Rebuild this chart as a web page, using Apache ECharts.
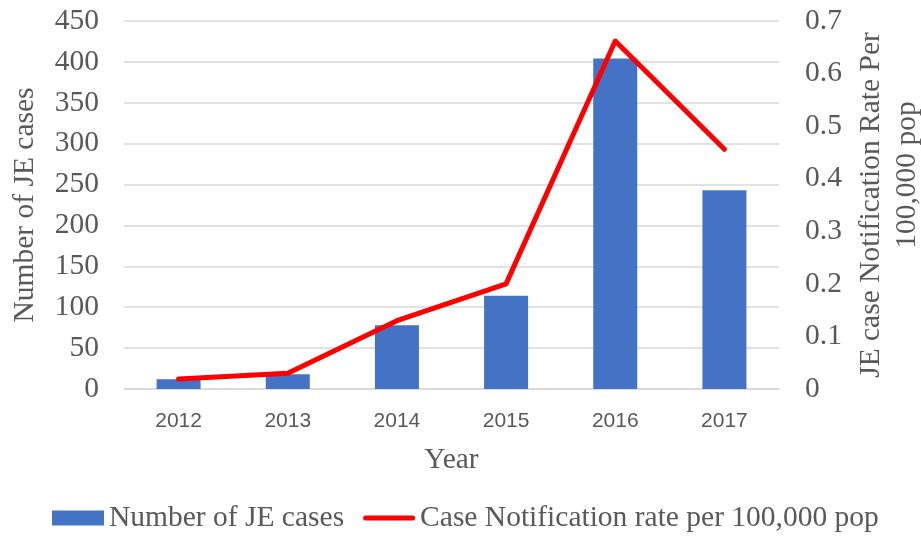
<!DOCTYPE html>
<html>
<head>
<meta charset="utf-8">
<script src="https://cdn.jsdelivr.net/npm/echarts@6/dist/echarts.min.js"></script>
<style>html,body{margin:0;padding:0;background:#fff}#c{width:921px;height:536px}</style>
</head>
<body>
<div id="c"></div>
<script>
const years = ['2012','2013','2014','2015','2016','2017'];
const cases = [12, 18, 78, 114, 404, 243];
const rate = [0.019, 0.030, 0.130, 0.200, 0.662, 0.456];
const leftTicks = {min: 0, max: 450, interval: 50};
const rightTicks = {min: 0, max: 0.7, interval: 0.1};

const serif = '"Liberation Serif", "Times New Roman", serif';
const grey = '#595959';
const chart = echarts.init(document.getElementById('c'), null, {renderer: 'canvas'});
chart.setOption({
  animation: false,
  backgroundColor: '#fff',
  grid: {left: 124, right: 142, top: 21, bottom: 147, containLabel: false, outerBoundsMode: 'none'},
  legend: {
    left: 47, top: 498,
    itemWidth: 52, itemHeight: 15, itemGap: 19,
    textStyle: {fontFamily: serif, fontSize: 29.5, color: grey},
    data: [
      {name: 'Number of JE cases', icon: 'rect'},
      {name: 'Case Notification rate per 100,000 pop',
       icon: 'path://M2.5,0 L49.5,0 A2.5,2.5 0 0 1 49.5,5 L2.5,5 A2.5,2.5 0 0 1 2.5,0 Z',
       itemStyle: {color: '#FF0000'}}
    ]
  },
  xAxis: {
    type: 'category', data: years,
    name: 'Year', nameLocation: 'middle', nameGap: 56,
    nameTextStyle: {fontFamily: serif, fontSize: 29.5, color: grey},
    axisTick: {show: false},
    axisLine: {lineStyle: {color: '#d9d9d9', width: 1.5}},
    axisLabel: {fontFamily: '"Liberation Sans", Arial, sans-serif', fontSize: 21, color: grey, margin: 22}
  },
  yAxis: [
    {
      type: 'value', min: leftTicks.min, max: leftTicks.max, interval: leftTicks.interval,
      name: 'Number of JE cases', nameLocation: 'middle', nameGap: 84, nameRotate: 90,
      nameTextStyle: {fontFamily: serif, fontSize: 29.5, color: grey},
      axisLabel: {fontFamily: serif, fontSize: 29.5, color: grey, margin: 25},
      axisLine: {show: false}, axisTick: {show: false},
      splitLine: {lineStyle: {color: '#d9d9d9', width: 1.5}}
    },
    {
      type: 'value', position: 'right', min: rightTicks.min, max: rightTicks.max, interval: rightTicks.interval,
      name: '{a|JE case Notification Rate Per}\n{b|100,000 pop}', nameLocation: 'middle', nameGap: 68, nameRotate: 90,
      nameTextStyle: {fontFamily: serif, fontSize: 29.5, color: grey, lineHeight: 36, align: 'center',
        rich: {
          a: {fontFamily: serif, fontSize: 29.5, color: grey, lineHeight: 36},
          b: {fontFamily: serif, fontSize: 29.5, color: grey, lineHeight: 36, padding: [0, 0, 0, 60]}
        }},
      axisLabel: {fontFamily: serif, fontSize: 29.5, color: grey, margin: 26,
        formatter: v => (Math.round(v*10)/10).toString()},
      axisLine: {show: false}, axisTick: {show: false},
      splitLine: {show: false}
    }
  ],
  series: [
    {
      name: 'Number of JE cases', type: 'bar', data: cases, yAxisIndex: 0,
      barWidth: 44, itemStyle: {color: '#4472C4'}
    },
    {
      name: 'Case Notification rate per 100,000 pop', type: 'line', data: rate, yAxisIndex: 1,
      symbol: 'none', itemStyle: {color: '#FF0000'},
      lineStyle: {color: '#FF0000', width: 5, cap: 'round', join: 'round'}
    }
  ]
});
</script>
</body>
</html>
